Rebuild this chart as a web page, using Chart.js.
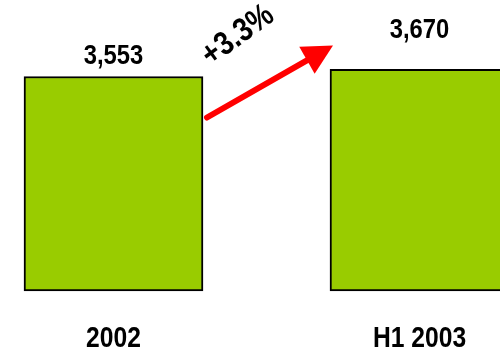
<!DOCTYPE html>
<html>
<head>
<meta charset="utf-8">
<script src="https://cdn.jsdelivr.net/npm/chart.js@4/dist/chart.umd.min.js"></script>
<style>
  html, body { margin: 0; padding: 0; background: #fff; }
  #wrap { width: 500px; height: 355px; position: relative; overflow: hidden; }
</style>
</head>
<body>
<div id="wrap"><canvas id="growthChart"></canvas></div>
<script>
const categories = ['2002', 'H1 2003'];
const values = [3553, 3670];
const valueLabels = ['3,553', '3,670'];
const growthLabel = '+3.3%';

const FONT = "'Liberation Sans', Arial, sans-serif";
const NARROW = 0.85; // squeeze Arial into a narrow face

function narrowText(ctx, text, x, y) {
  ctx.save();
  ctx.translate(x, y);
  ctx.scale(NARROW, 1);
  ctx.fillText(text, 0, 0);
  ctx.restore();
}

// category labels, value labels above the bars + red growth arrow
const annotate = {
  id: 'annotate',
  afterDatasetsDraw(chart, args, opts) {
    const ctx = chart.ctx;
    const bars = chart.getDatasetMeta(0).data;
    const xs = chart.scales.x;

    ctx.save();
    ctx.fillStyle = '#000';
    ctx.font = 'bold 29px ' + FONT;
    ctx.textAlign = 'center';
    ctx.textBaseline = 'middle';
    categories.forEach((c, i) => {
      narrowText(ctx, c, xs.getPixelForValue(i), chart.chartArea.bottom + 48);
    });

    ctx.font = 'bold 28px ' + FONT;
    bars.forEach((b, i) => {
      narrowText(ctx, valueLabels[i], b.x, b.y - opts.labelOffsets[i]);
    });

    // arrow from first bar to second bar
    const b0 = bars[0], b1 = bars[1];
    const sx = b0.x + b0.width / 2 + 4, sy = b0.y + 41;
    const tx = b1.x - b1.width / 2 + 3, ty = b1.y - 24;
    const ang = Math.atan2(ty - sy, tx - sx);
    const headLen = 30, headHalf = 15.5;
    const bx = tx - headLen * Math.cos(ang), by = ty - headLen * Math.sin(ang);

    ctx.strokeStyle = '#ff0000';
    ctx.fillStyle = '#ff0000';
    ctx.lineWidth = 6;
    ctx.lineCap = 'round';
    ctx.beginPath();
    ctx.moveTo(sx, sy);
    ctx.lineTo(bx + 2 * Math.cos(ang), by + 2 * Math.sin(ang));
    ctx.stroke();

    ctx.beginPath();
    ctx.moveTo(tx, ty);
    ctx.lineTo(bx + headHalf * Math.sin(ang), by - headHalf * Math.cos(ang));
    ctx.lineTo(bx - headHalf * Math.sin(ang), by + headHalf * Math.cos(ang));
    ctx.closePath();
    ctx.fill();

    // growth text, rotated along the arrow
    ctx.translate(sx + 31, sy - 82);
    ctx.rotate(-36 * Math.PI / 180);
    ctx.fillStyle = '#000';
    ctx.font = 'bold 33px ' + FONT;
    narrowText(ctx, growthLabel, 0, 0);
    ctx.restore();
  }
};

new Chart(document.getElementById('growthChart').getContext('2d'), {
  type: 'bar',
  data: {
    labels: categories,
    datasets: [{
      data: values,
      backgroundColor: '#99cc00',
      borderColor: '#000000',
      borderWidth: 2,
      borderSkipped: false,
      barThickness: 179,
      clip: false
    }]
  },
  options: {
    responsive: true,
    maintainAspectRatio: false,
    animation: false,
    layout: { padding: { left: 113.5, right: 80.5, top: 0, bottom: 64 } },
    scales: {
      x: {
        offset: false,
        grid: { display: false, drawTicks: false },
        border: { display: false },
        ticks: { display: false }
      },
      y: {
        display: false,
        min: 0,
        max: 4820
      }
    },
    plugins: {
      legend: { display: false },
      tooltip: { enabled: false },
      annotate: { labelOffsets: [20, 39] }
    }
  },
  plugins: [annotate]
});
</script>
</body>
</html>
